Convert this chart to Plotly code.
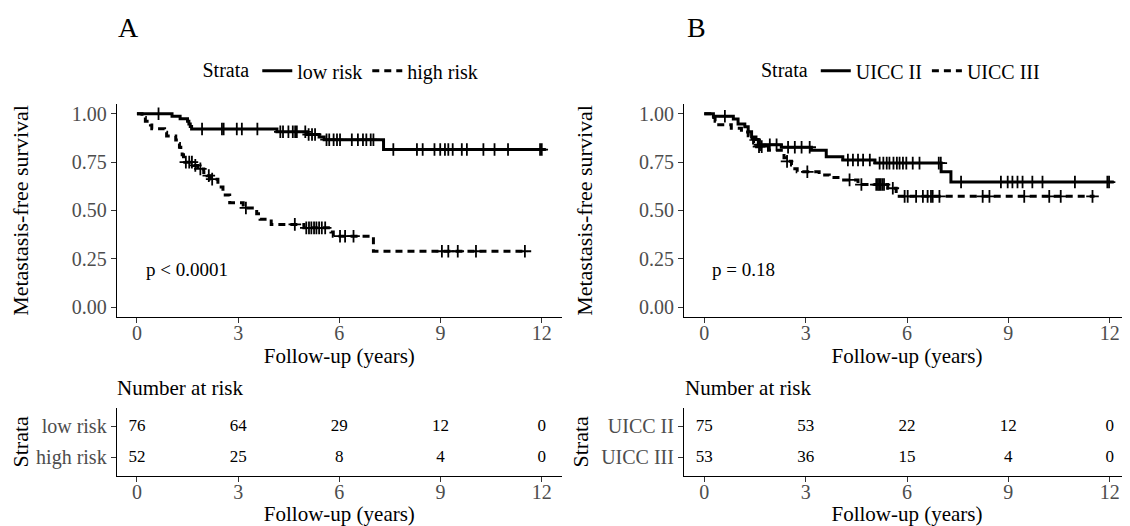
import numpy as np
import plotly.graph_objects as go

# ---------------- data ----------------
# Panel A: risk groups (Kaplan-Meier step points)
low_t = [0, 1.04, 1.28, 1.50, 1.54, 1.58, 1.62, 4.15, 5.05, 5.40, 5.55, 7.31, 12.12]
low_s = [1.0, 0.987, 0.974, 0.961, 0.947, 0.934, 0.921, 0.907, 0.893, 0.880, 0.866, 0.815, 0.815]
low_cens = [0.64, 1.93, 2.52, 2.57, 2.96, 3.11, 3.57, 4.25, 4.33, 4.49, 4.62, 4.69, 4.74, 4.99,
            5.09, 5.19, 5.28, 5.62, 5.70, 5.83, 5.93, 6.02, 6.37, 6.55, 6.70, 6.80, 6.93, 7.01,
            7.60, 8.30, 8.47, 8.82, 8.99, 9.13, 9.23, 9.36, 9.63, 9.78, 10.27, 10.60, 11.00,
            11.95, 12.0]

high_t = [0, 0.15, 0.25, 0.40, 0.44, 0.82, 0.88, 1.15, 1.22, 1.26, 1.30, 1.34, 1.38, 1.42,
          1.68, 1.80, 1.98, 2.08, 2.18, 2.40, 2.55, 2.75, 3.15, 3.55, 3.65, 3.98, 4.95, 5.75,
          5.82, 7.01, 11.58]
high_s = [1.0, 0.981, 0.962, 0.942, 0.923, 0.904, 0.885, 0.865, 0.846, 0.827, 0.808, 0.788,
          0.769, 0.750, 0.733, 0.715, 0.697, 0.680, 0.662, 0.621, 0.580, 0.540, 0.513, 0.483,
          0.455, 0.428, 0.410, 0.389, 0.367, 0.289, 0.289]
high_cens = [1.45, 1.55, 1.63, 1.73, 1.88, 2.13, 2.23, 3.23, 4.68, 5.02, 5.10, 5.17, 5.25,
             5.32, 5.40, 5.48, 5.58, 6.02, 6.17, 6.42, 9.04, 9.23, 9.51, 10.05, 11.50]

# Panel B: UICC stage
u2_t = [0, 0.27, 0.86, 1.00, 1.20, 1.30, 1.40, 1.53, 1.60, 2.28, 3.17, 3.61, 4.10, 5.05,
        7.01, 7.30, 12.12]
u2_s = [1.0, 0.987, 0.973, 0.947, 0.933, 0.907, 0.880, 0.867, 0.840, 0.827, 0.812, 0.778,
        0.761, 0.745, 0.700, 0.647, 0.647]
u2_cens = [0.61, 1.65, 1.94, 2.14, 2.48, 2.68, 2.88, 3.12, 4.25, 4.40, 4.55, 4.70, 4.90,
           5.19, 5.30, 5.40, 5.48, 5.60, 5.70, 5.78, 5.88, 5.98, 6.17, 6.37, 6.94, 7.00,
           7.60, 8.78, 8.98, 9.12, 9.27, 9.42, 9.71, 10.01, 10.97, 11.93, 11.98]

u3_t = [0, 0.28, 0.32, 0.36, 0.80, 1.10, 1.30, 1.38, 1.46, 1.55, 1.90, 2.28, 2.36, 2.42,
        2.58, 2.68, 2.75, 3.40, 3.70, 4.05, 4.55, 5.43, 5.68, 11.55]
u3_s = [1.0, 0.981, 0.962, 0.943, 0.925, 0.906, 0.887, 0.868, 0.849, 0.830, 0.812, 0.793,
        0.773, 0.754, 0.735, 0.716, 0.700, 0.684, 0.670, 0.658, 0.634, 0.615, 0.573, 0.573]
u3_cens = [1.62, 1.70, 2.45, 3.05, 4.30, 4.65, 5.09, 5.14, 5.18, 5.22, 5.27, 5.32, 5.58,
           5.93, 6.02, 6.27, 6.47, 6.61, 6.71, 6.76, 6.96, 8.24, 8.44, 9.47, 10.21, 10.55,
           11.49]

# Number at risk tables
risk_times = [0, 3, 6, 9, 12]
risk_low = [76, 64, 29, 12, 0]
risk_high = [52, 25, 8, 4, 0]
risk_u2 = [75, 53, 22, 12, 0]
risk_u3 = [53, 36, 15, 4, 0]

x_ticks = [0, 3, 6, 9, 12]
y_ticks = [0.0, 0.25, 0.50, 0.75, 1.00]
y_ticklabels = ["0.00", "0.25", "0.50", "0.75", "1.00"]

# ---------------- layout helpers ----------------
# page body has an 8px default margin: figure occupies window pixels 8..1130 x 8..526
OFF = 8
W, H = 1130 - OFF, 526 - OFF
FONT = "Liberation Serif, Times New Roman, serif"
GRAY = "#4d4d4d"


def fx(px):
    return (px - OFF) / W


def fy(py):
    return 1 - (py - OFF) / H


def surv_at(times, surv, t):
    idx = np.searchsorted(np.array(times), np.array(t), side="right") - 1
    return np.array(surv)[idx]


fig = go.Figure()

LW = 3
DASH = "7px,5px"


def add_curve(t, s, cens, name, dash, xa, ya, legend):
    fig.add_trace(go.Scatter(
        x=t, y=s, mode="lines", line=dict(color="black", width=LW, dash=dash, shape="hv"),
        name=name, xaxis=xa, yaxis=ya, legend=legend, showlegend=True))
    fig.add_trace(go.Scatter(
        x=cens, y=surv_at(t, s, cens), mode="markers",
        marker=dict(symbol="cross-thin", size=9, line=dict(color="black", width=1.8)),
        xaxis=xa, yaxis=ya, showlegend=False, hoverinfo="skip"))


add_curve(low_t, low_s, low_cens, "low risk", "solid", "x", "y", "legend")
add_curve(high_t, high_s, high_cens, "high risk", DASH, "x", "y", "legend")
add_curve(u2_t, u2_s, u2_cens, "UICC II", "solid", "x2", "y2", "legend2")
add_curve(u3_t, u3_s, u3_cens, "UICC III", DASH, "x2", "y2", "legend2")

# risk tables
NUM_FONT = dict(family=FONT, size=17, color="black")
for vals, row, xa, ya in [(risk_low, 1, "x3", "y3"), (risk_high, 0, "x3", "y3"),
                          (risk_u2, 1, "x4", "y4"), (risk_u3, 0, "x4", "y4")]:
    fig.add_trace(go.Scatter(x=risk_times, y=[row] * len(risk_times), mode="text",
                             text=[str(v) for v in vals], textfont=NUM_FONT,
                             xaxis=xa, yaxis=ya, showlegend=False, hoverinfo="skip"))

TICKFONT = dict(family=FONT, size=20, color=GRAY)
TITLEFONT = dict(family=FONT, size=21, color="black")
YTITLEFONT = dict(family=FONT, size=22, color="black")

axis_common = dict(showline=True, linecolor="black", linewidth=1.1, ticks="outside",
                   ticklen=5, tickwidth=1.1, tickcolor="#333333", showgrid=False,
                   zeroline=False, tickfont=TICKFONT, fixedrange=True)

A_X = [fx(116.7), fx(562)]
B_X = [fx(684), 1.0]
MAIN_Y = [fy(317), fy(103.5)]
TAB_Y = [fy(476.6), fy(408.4)]

xr = [-0.6, 12.6]


def xax(domain, anchor):
    return dict(axis_common, domain=domain, range=xr, tickvals=x_ticks, anchor=anchor,
                ticklabelstandoff=-7,
                title=dict(text="Follow-up (years)", font=TITLEFONT, standoff=2))


fig.update_layout(
    width=W, height=H, margin=dict(l=0, r=0, t=0, b=0),
    paper_bgcolor="white", plot_bgcolor="white",
    font=dict(family=FONT, color="black"),
    xaxis=xax(A_X, "y"),
    yaxis=dict(axis_common, domain=MAIN_Y, range=[-0.05, 1.05], tickvals=y_ticks,
               ticktext=y_ticklabels, anchor="x",
               title=dict(text="Metastasis-free survival", font=YTITLEFONT, standoff=40)),
    xaxis2=xax(B_X, "y2"),
    yaxis2=dict(axis_common, domain=MAIN_Y, range=[-0.05, 1.05], tickvals=y_ticks,
                ticktext=y_ticklabels, anchor="x2",
                title=dict(text="Metastasis-free survival", font=YTITLEFONT, standoff=40)),
    xaxis3=xax(A_X, "y3"),
    yaxis3=dict(axis_common, domain=TAB_Y, range=[-0.6, 1.6], tickvals=[1, 0],
                ticktext=["low risk", "high risk"], anchor="x3",
                title=dict(text="Strata", font=YTITLEFONT, standoff=6)),
    xaxis4=xax(B_X, "y4"),
    yaxis4=dict(axis_common, domain=TAB_Y, range=[-0.6, 1.6], tickvals=[1, 0],
                ticktext=["UICC II", "UICC III"], anchor="x4",
                title=dict(text="Strata", font=YTITLEFONT, standoff=6)),
    legend=dict(orientation="h", x=fx(342), xanchor="center", y=fy(70), yanchor="middle",
                title=dict(text="Strata", font=dict(family=FONT, size=20)),
                font=dict(family=FONT, size=20), bgcolor="rgba(0,0,0,0)"),
    legend2=dict(orientation="h", x=fx(902), xanchor="center", y=fy(70), yanchor="middle",
                 title=dict(text="Strata", font=dict(family=FONT, size=20)),
                 font=dict(family=FONT, size=20), bgcolor="rgba(0,0,0,0)"),
    annotations=[
        dict(text="A", x=fx(116), y=fy(27), xref="paper", yref="paper", xanchor="left",
             yanchor="middle", showarrow=False, font=dict(family=FONT, size=28)),
        dict(text="B", x=fx(685), y=fy(27), xref="paper", yref="paper", xanchor="left",
             yanchor="middle", showarrow=False, font=dict(family=FONT, size=28)),
        dict(text="Number at risk", x=fx(115), y=fy(388), xref="paper", yref="paper",
             xanchor="left", yanchor="middle", showarrow=False,
             font=dict(family=FONT, size=21)),
        dict(text="Number at risk", x=fx(683), y=fy(388), xref="paper", yref="paper",
             xanchor="left", yanchor="middle", showarrow=False,
             font=dict(family=FONT, size=21)),
        dict(text="p < 0.0001", x=0.2, y=0.196, xref="x", yref="y", xanchor="left",
             yanchor="middle", showarrow=False, font=dict(family=FONT, size=19)),
        dict(text="p = 0.18", x=0.17, y=0.196, xref="x2", yref="y2", xanchor="left",
             yanchor="middle", showarrow=False, font=dict(family=FONT, size=19)),
    ],
)

fig.write_html("out.html")
